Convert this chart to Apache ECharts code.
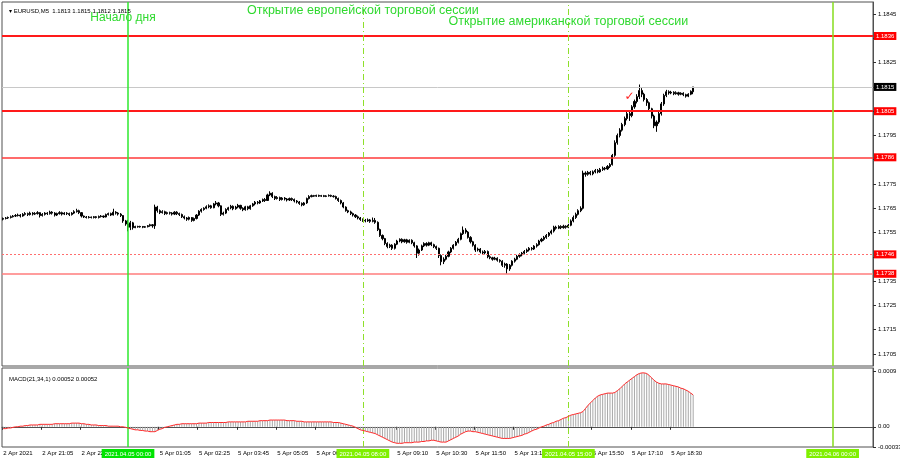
<!DOCTYPE html>
<html><head><meta charset="utf-8">
<script src="https://cdn.jsdelivr.net/npm/echarts@6/dist/echarts.min.js"></script>
<style>html,body{margin:0;padding:0;background:#fff}#c{width:900px;height:460px}</style>
</head><body><div id="c"></div>
<script>
// ---- time structure of the 5-minute bars (categories) ----
const sessions = [
  {date:'2021.04.02', start:'19:45', bars:51},
  {date:'2021.04.05', start:'00:00', bars:288},
  {date:'2021.04.06', start:'00:00', bars:17}
];
// ---- EURUSD M5 bars: [open, close, low, high] ----
const ohlc = [
[1.17605,1.17608,1.17600,1.17612],[1.17608,1.17610,1.17604,1.17614],[1.17610,1.17612,1.17606,1.17616],[1.17612,1.17615,1.17608,1.17620],
[1.17615,1.17618,1.17612,1.17622],[1.17618,1.17620,1.17614,1.17626],[1.17620,1.17622,1.17616,1.17628],[1.17622,1.17618,1.17612,1.17626],
[1.17618,1.17625,1.17615,1.17630],[1.17625,1.17628,1.17620,1.17634],[1.17628,1.17624,1.17618,1.17632],[1.17624,1.17630,1.17620,1.17636],
[1.17630,1.17626,1.17620,1.17634],[1.17626,1.17628,1.17622,1.17634],[1.17628,1.17632,1.17624,1.17638],[1.17632,1.17620,1.17612,1.17634],
[1.17620,1.17625,1.17616,1.17630],[1.17625,1.17630,1.17620,1.17634],[1.17630,1.17628,1.17622,1.17634],[1.17628,1.17634,1.17624,1.17640],
[1.17634,1.17630,1.17624,1.17638],[1.17630,1.17622,1.17616,1.17634],[1.17622,1.17628,1.17618,1.17632],[1.17628,1.17632,1.17624,1.17638],
[1.17632,1.17626,1.17620,1.17636],[1.17626,1.17630,1.17622,1.17634],[1.17630,1.17628,1.17622,1.17634],[1.17628,1.17624,1.17618,1.17632],
[1.17624,1.17630,1.17620,1.17634],[1.17630,1.17636,1.17626,1.17642],[1.17636,1.17640,1.17632,1.17648],[1.17640,1.17632,1.17626,1.17644],
[1.17632,1.17618,1.17612,1.17634],[1.17618,1.17614,1.17610,1.17620],[1.17614,1.17612,1.17608,1.17618],[1.17612,1.17614,1.17608,1.17618],
[1.17614,1.17612,1.17608,1.17616],[1.17612,1.17615,1.17608,1.17618],[1.17615,1.17612,1.17608,1.17618],[1.17612,1.17616,1.17608,1.17620],
[1.17616,1.17618,1.17612,1.17622],[1.17618,1.17614,1.17610,1.17620],[1.17614,1.17624,1.17612,1.17628],[1.17624,1.17628,1.17620,1.17632],
[1.17628,1.17622,1.17618,1.17632],[1.17622,1.17634,1.17620,1.17648],[1.17634,1.17630,1.17624,1.17638],[1.17630,1.17626,1.17620,1.17634],
[1.17626,1.17620,1.17614,1.17630],[1.17620,1.17598,1.17590,1.17622],[1.17598,1.17585,1.17578,1.17602],
[1.17585,1.17572,1.17555,1.17602],[1.17572,1.17590,1.17560,1.17598],[1.17590,1.17570,1.17562,1.17594],[1.17570,1.17575,1.17568,1.17578],
[1.17575,1.17573,1.17570,1.17578],[1.17573,1.17575,1.17570,1.17578],[1.17575,1.17572,1.17568,1.17577],[1.17572,1.17574,1.17569,1.17577],
[1.17574,1.17578,1.17571,1.17581],[1.17578,1.17582,1.17574,1.17586],[1.17582,1.17578,1.17570,1.17585],[1.17578,1.17655,1.17565,1.17665],
[1.17655,1.17640,1.17632,1.17660],[1.17640,1.17632,1.17626,1.17645],[1.17632,1.17636,1.17628,1.17642],[1.17636,1.17628,1.17622,1.17640],
[1.17628,1.17632,1.17624,1.17636],[1.17632,1.17630,1.17624,1.17636],[1.17630,1.17626,1.17620,1.17634],[1.17626,1.17634,1.17622,1.17638],
[1.17634,1.17628,1.17622,1.17638],[1.17628,1.17624,1.17618,1.17632],[1.17624,1.17615,1.17610,1.17628],[1.17615,1.17610,1.17604,1.17620],
[1.17610,1.17605,1.17598,1.17614],[1.17605,1.17612,1.17600,1.17616],[1.17612,1.17600,1.17594,1.17614],[1.17600,1.17608,1.17596,1.17612],
[1.17608,1.17622,1.17604,1.17626],[1.17622,1.17638,1.17618,1.17642],[1.17638,1.17645,1.17632,1.17650],[1.17645,1.17650,1.17640,1.17654],
[1.17650,1.17656,1.17646,1.17662],[1.17656,1.17660,1.17650,1.17666],[1.17660,1.17652,1.17648,1.17664],[1.17652,1.17668,1.17650,1.17672],
[1.17668,1.17672,1.17662,1.17680],[1.17672,1.17660,1.17654,1.17676],[1.17660,1.17625,1.17618,1.17662],[1.17625,1.17630,1.17620,1.17636],
[1.17630,1.17645,1.17626,1.17650],[1.17645,1.17652,1.17640,1.17656],[1.17652,1.17658,1.17646,1.17664],[1.17658,1.17648,1.17642,1.17662],
[1.17648,1.17655,1.17644,1.17660],[1.17655,1.17662,1.17650,1.17668],[1.17662,1.17650,1.17644,1.17664],[1.17650,1.17644,1.17638,1.17654],
[1.17644,1.17656,1.17640,1.17660],[1.17656,1.17648,1.17642,1.17660],[1.17648,1.17660,1.17644,1.17664],[1.17660,1.17668,1.17656,1.17672],
[1.17668,1.17675,1.17662,1.17680],[1.17675,1.17672,1.17666,1.17680],[1.17672,1.17680,1.17668,1.17684],[1.17680,1.17686,1.17676,1.17690],
[1.17686,1.17682,1.17676,1.17692],[1.17682,1.17705,1.17680,1.17710],[1.17705,1.17712,1.17700,1.17720],[1.17712,1.17698,1.17692,1.17716],
[1.17698,1.17690,1.17684,1.17702],[1.17690,1.17694,1.17686,1.17700],[1.17694,1.17686,1.17680,1.17698],[1.17686,1.17692,1.17682,1.17696],
[1.17692,1.17688,1.17682,1.17696],[1.17688,1.17684,1.17678,1.17692],[1.17684,1.17690,1.17680,1.17694],[1.17690,1.17686,1.17680,1.17694],
[1.17686,1.17680,1.17674,1.17690],[1.17680,1.17676,1.17670,1.17684],[1.17676,1.17670,1.17664,1.17680],[1.17670,1.17664,1.17658,1.17674],
[1.17664,1.17672,1.17660,1.17676],[1.17672,1.17690,1.17668,1.17694],[1.17690,1.17698,1.17686,1.17704],[1.17698,1.17702,1.17695,1.17706],
[1.17702,1.17700,1.17697,1.17705],[1.17700,1.17703,1.17697,1.17706],[1.17703,1.17700,1.17697,1.17706],[1.17700,1.17702,1.17697,1.17705],
[1.17702,1.17699,1.17696,1.17705],[1.17699,1.17701,1.17696,1.17704],[1.17701,1.17703,1.17698,1.17707],[1.17703,1.17700,1.17696,1.17706],
[1.17700,1.17698,1.17694,1.17704],[1.17698,1.17690,1.17686,1.17702],[1.17690,1.17682,1.17676,1.17694],[1.17682,1.17672,1.17666,1.17686],
[1.17672,1.17655,1.17650,1.17676],[1.17655,1.17640,1.17636,1.17658],[1.17640,1.17635,1.17630,1.17644],[1.17635,1.17628,1.17622,1.17640],
[1.17628,1.17622,1.17616,1.17632],[1.17622,1.17615,1.17610,1.17626],[1.17615,1.17610,1.17604,1.17620],[1.17610,1.17604,1.17598,1.17614],
[1.17604,1.17600,1.17594,1.17608],[1.17600,1.17598,1.17592,1.17606],[1.17598,1.17602,1.17594,1.17608],[1.17602,1.17596,1.17590,1.17606],
[1.17596,1.17600,1.17592,1.17612],[1.17600,1.17592,1.17586,1.17610],[1.17592,1.17562,1.17556,1.17596],[1.17562,1.17538,1.17532,1.17566],
[1.17538,1.17525,1.17518,1.17542],[1.17525,1.17505,1.17498,1.17528],[1.17505,1.17492,1.17485,1.17510],[1.17492,1.17498,1.17486,1.17504],
[1.17498,1.17485,1.17478,1.17502],[1.17485,1.17502,1.17480,1.17506],[1.17502,1.17515,1.17498,1.17520],[1.17515,1.17522,1.17510,1.17526],
[1.17522,1.17512,1.17506,1.17526],[1.17512,1.17520,1.17508,1.17524],[1.17520,1.17510,1.17504,1.17524],[1.17510,1.17518,1.17506,1.17522],
[1.17518,1.17508,1.17502,1.17522],[1.17508,1.17495,1.17488,1.17512],[1.17495,1.17465,1.17445,1.17498],[1.17465,1.17478,1.17455,1.17484],
[1.17478,1.17495,1.17474,1.17500],[1.17495,1.17505,1.17490,1.17510],[1.17505,1.17498,1.17492,1.17510],[1.17498,1.17508,1.17494,1.17512],
[1.17508,1.17500,1.17494,1.17512],[1.17500,1.17492,1.17486,1.17504],[1.17492,1.17485,1.17478,1.17496],[1.17485,1.17455,1.17445,1.17488],
[1.17455,1.17430,1.17415,1.17460],[1.17430,1.17440,1.17420,1.17448],[1.17440,1.17452,1.17435,1.17458],[1.17452,1.17470,1.17448,1.17475],
[1.17470,1.17485,1.17465,1.17490],[1.17485,1.17498,1.17480,1.17502],[1.17498,1.17510,1.17494,1.17515],[1.17510,1.17522,1.17505,1.17528],
[1.17522,1.17545,1.17518,1.17550],[1.17545,1.17560,1.17540,1.17575],[1.17560,1.17552,1.17545,1.17568],[1.17552,1.17530,1.17525,1.17556],
[1.17530,1.17512,1.17505,1.17535],[1.17512,1.17498,1.17492,1.17516],[1.17498,1.17478,1.17470,1.17502],[1.17478,1.17482,1.17472,1.17488],
[1.17482,1.17470,1.17464,1.17486],[1.17470,1.17466,1.17460,1.17476],[1.17466,1.17472,1.17460,1.17478],[1.17472,1.17450,1.17444,1.17476],
[1.17450,1.17446,1.17440,1.17456],[1.17446,1.17440,1.17434,1.17450],[1.17440,1.17444,1.17436,1.17450],[1.17444,1.17436,1.17430,1.17448],
[1.17436,1.17432,1.17426,1.17440],[1.17432,1.17415,1.17408,1.17436],[1.17415,1.17420,1.17405,1.17426],[1.17420,1.17400,1.17380,1.17424],
[1.17400,1.17415,1.17392,1.17420],[1.17415,1.17432,1.17410,1.17436],[1.17432,1.17440,1.17426,1.17446],[1.17440,1.17452,1.17436,1.17458],
[1.17452,1.17458,1.17446,1.17464],[1.17458,1.17465,1.17452,1.17470],[1.17465,1.17472,1.17460,1.17478],[1.17472,1.17478,1.17466,1.17484],
[1.17478,1.17485,1.17472,1.17490],[1.17485,1.17482,1.17476,1.17490],[1.17482,1.17494,1.17478,1.17498],[1.17494,1.17500,1.17488,1.17506],
[1.17500,1.17515,1.17496,1.17520],[1.17515,1.17522,1.17510,1.17528],[1.17522,1.17530,1.17516,1.17536],[1.17530,1.17538,1.17524,1.17544],
[1.17538,1.17548,1.17532,1.17552],[1.17548,1.17556,1.17542,1.17562],[1.17556,1.17572,1.17550,1.17578],[1.17572,1.17568,1.17562,1.17578],
[1.17568,1.17575,1.17564,1.17580],[1.17575,1.17570,1.17564,1.17580],[1.17570,1.17576,1.17566,1.17582],[1.17576,1.17572,1.17566,1.17580],
[1.17572,1.17580,1.17568,1.17586],[1.17580,1.17598,1.17576,1.17604],[1.17598,1.17612,1.17592,1.17620],[1.17612,1.17625,1.17606,1.17632],
[1.17625,1.17640,1.17620,1.17646],[1.17640,1.17650,1.17634,1.17658],[1.17650,1.17795,1.17645,1.17805],[1.17795,1.17790,1.17780,1.17802],
[1.17790,1.17798,1.17784,1.17804],[1.17798,1.17792,1.17786,1.17804],[1.17792,1.17800,1.17786,1.17806],[1.17800,1.17806,1.17794,1.17812],
[1.17806,1.17800,1.17794,1.17812],[1.17800,1.17810,1.17796,1.17816],[1.17810,1.17815,1.17804,1.17822],[1.17815,1.17812,1.17806,1.17820],
[1.17812,1.17822,1.17808,1.17828],[1.17822,1.17830,1.17816,1.17836],[1.17830,1.17868,1.17826,1.17874],[1.17868,1.17920,1.17862,1.17930],
[1.17920,1.17950,1.17912,1.17958],[1.17950,1.17972,1.17942,1.17980],[1.17972,1.17995,1.17966,1.18002],[1.17995,1.18020,1.17988,1.18028],
[1.18020,1.18040,1.18012,1.18048],[1.18040,1.18032,1.18010,1.18050],[1.18032,1.18068,1.18025,1.18075],[1.18068,1.18090,1.18060,1.18098],
[1.18090,1.18110,1.18082,1.18120],[1.18110,1.18135,1.18100,1.18160],[1.18135,1.18120,1.18108,1.18145],[1.18120,1.18098,1.18090,1.18126],
[1.18098,1.18085,1.18072,1.18104],[1.18085,1.18060,1.18050,1.18090],[1.18060,1.18030,1.18020,1.18064],[1.18030,1.17990,1.17980,1.18036],
[1.17990,1.18005,1.17965,1.18012],[1.18005,1.18040,1.17998,1.18048],[1.18040,1.18080,1.18032,1.18088],[1.18080,1.18115,1.18072,1.18122],
[1.18115,1.18130,1.18108,1.18138],[1.18130,1.18125,1.18118,1.18136],[1.18125,1.18128,1.18120,1.18134],[1.18128,1.18122,1.18116,1.18132],
[1.18122,1.18126,1.18118,1.18132],[1.18126,1.18120,1.18114,1.18130],[1.18120,1.18124,1.18116,1.18128],[1.18124,1.18118,1.18112,1.18128],
[1.18118,1.18112,1.18106,1.18122],[1.18112,1.18120,1.18108,1.18124],[1.18120,1.18132,1.18116,1.18136],[1.18130,1.18150,1.18120,1.18150]
];
// ---- MACD(21,34,1) main value per bar, in units of 0.00001 (signal = main, period 1) ----
const MACD_UNIT = 0.00001;
const macdPts = [
-3,-3,-2,-2,-1, 0,0,1,1,2,2,3,3,3,
3,4,4,4,4,4,4,5,5,5,5,5,5,5,6,6,6,
6,5,5,4,4,3,3,3,2,2,2,2,1,1,1,1,1,0,0,-1,
-2,-3,-4,-5,-5,-6,-6,-7,-7,-8,-8,-8,
-6,-4,-3,-1,0,1,2,3,4,4,
5,5,5,5,5,5,5,6,6,
6,6,7,7,7,7,7,7,7,7,8,8,8,8,8,8,8,8,9,9,
9,9,9,10,10,10,10,11,11,11,11,11,11,11,10,10,10,10,9,9,9,8,
8,8,8,8,8,8,8,8,8,8,8,7,7,7,6,
5,4,3,2,1,-1,-3,-5,
-6,-7,-8,-9,-10,-11,-13,-15,-17,-19,-21,-23,-25,
-26,-27,-27,-27,-26,-26,-26,-26,-25,-25,-25,-24,-24,-23,-23,-22,-22,
-23,-24,-25,-25,-25,-23,
-21,-19,-17,-15,-12,-10,-8,-7,
-7,-8,-8,-9,
-10,-11,-12,-13,-14,-15,-16,-17,-18,-19,-19,-19,-19,
-18,-17,-16,-15,-14,-12,-11,-9,-7,-5,-4,-2,
0,1,3,4,6,7,9,10,12,14,15,17,
19,20,21,22,23,25,
30,35,39,43,47,50,52,53,
54,55,55,55,56,
59,62,66,70,73,76,79,82,85,87,
88,88,87,
84,80,76,73,
71,70,70,70,69,68,
67,66,65,63,62,60,58,55,52
];
// ---- axis tick values ----
const priceTicks = [1.1705,1.1715,1.1725,1.1735,1.1745,1.1755,1.1765,1.1775,1.1785,1.1795,1.1805,1.1815,1.1825,1.1835,1.1845];
const macdTicks = [-0.00033, 0, 0.0009];
const macdTickText = ['-0.00033','0.00','0.0009'];
const timeLabels = ['2021.04.02 19:45','2021.04.02 21:05','2021.04.02 22:25','2021.04.05 01:05','2021.04.05 02:25',
  '2021.04.05 03:45','2021.04.05 05:05','2021.04.05 06:25','2021.04.05 09:10','2021.04.05 10:30','2021.04.05 11:50',
  '2021.04.05 13:10','2021.04.05 15:50','2021.04.05 17:10','2021.04.05 18:30'];
const sessionMarks = ['2021.04.05 00:00','2021.04.05 08:00','2021.04.05 15:00','2021.04.06 00:00'];
// ---- horizontal levels ----
const levels = [1.1836, 1.1805, 1.1786, 1.1746, 1.1738];
const bidPrice = 1.1815;
// ---- text annotations ----
const notes = [
  {text:'Начало дня', time:'2021.04.05 00:00', price:1.18434},
  {text:'Открытие европейской торговой сессии', time:'2021.04.05 08:00', price:1.18463},
  {text:'Открытие американской торговой сессии', time:'2021.04.05 15:00', price:1.18417}
];
const tick = {time:'2021.04.05 17:05', price:1.18107};

// ---------- build ----------
const categories = [];
sessions.forEach(s => {
  const [h, m] = s.start.split(':').map(Number);
  for (let k = 0; k < s.bars; k++) {
    const mm = h * 60 + m + k * 5;
    categories.push(s.date + ' ' + String(Math.floor(mm / 60)).padStart(2, '0') + ':' + String(mm % 60).padStart(2, '0'));
  }
});
const MON = {'04': 'Apr'};
const labelSet = new Set(timeLabels);
const markSet = new Set(sessionMarks);
function shortLabel(cat, idx) {
  const [d, t] = cat.split(' ');
  const [y, mo, dd] = d.split('.');
  return idx === 0 ? (+dd) + ' ' + MON[mo] + ' ' + y : (+dd) + ' ' + MON[mo] + ' ' + t;
}
const macd = macdPts.map(v => +(v * MACD_UNIT).toFixed(5));
const last = ohlc[ohlc.length - 1];
const FONT = 'Liberation Sans';
const GREEN_TXT = '#2fd92f';
const vLineStyles = [
  {color:'#2ee82e', width:1.5, type:'solid'},
  {color:'#8ee02a', width:1, type:[6,3,1,3]},
  {color:'#8ee02a', width:1, type:[6,3,1,3]},
  {color:'#86dc1e', width:1.5, type:'solid'}
];
const makeVLines = () => sessionMarks.map((t, i) => ({xAxis: categories.indexOf(t), lineStyle: Object.assign({}, vLineStyles[i]), label:{show:false}}));
const levelColors = ['#ff1a1a', '#ff1a1a', '#ff3a3a', '#ff6e6e', '#ff7d7d'];
const levelWidths = [2, 2, 1.5, 1, 1.5];
const levelTypes = ['solid', 'solid', 'solid', [2, 2], 'solid'];
const levelLines = levels.map((v, i) => ({
  yAxis: v,
  lineStyle: {color: levelColors[i], width: levelWidths[i], type: levelTypes[i], opacity: 1},
  label: {show:true, position:'end', distance:1, formatter: v.toFixed(4), backgroundColor:'#ff0000', color:'#fff',
          fontSize:6, fontFamily:FONT, padding:[1,2,1,2]}
}));
levelLines.push({yAxis: bidPrice, lineStyle:{color:'#c8c8c8', width:1, type:'solid'},
  label:{show:true, position:'end', distance:1, formatter: bidPrice.toFixed(4), backgroundColor:'#000', color:'#fff',
         fontSize:6, fontFamily:FONT, padding:[1,2,1,2]}});

const notePoints = notes.map(n => ({
  coord:[categories.indexOf(n.time), n.price], symbolSize:1, itemStyle:{color:'rgba(0,0,0,0)'},
  label:{show:true, formatter:n.text, color:GREEN_TXT, fontSize: n.text === 'Начало дня' ? 12 : 12.5, fontFamily:FONT, position:'inside',
         offset: n.text === 'Начало дня' ? [-5, 0] : [0, 0]}
}));
notePoints.push({coord:[categories.indexOf(tick.time), tick.price], symbolSize:1, itemStyle:{color:'rgba(0,0,0,0)'},
  label:{show:true, formatter:'✓', color:'#ff2020', fontSize:12, fontFamily:'DejaVu Sans', position:'inside'}});

const fmt = v => v.toFixed(4);
const chart = echarts.init(document.getElementById('c'), null, {renderer:'canvas'});
chart.setOption({
  animation:false,
  backgroundColor:'#ffffff',
  textStyle:{fontFamily:FONT},
  title:[
    {text:'▾ EURUSD,M5  ' + [last[0], last[3], last[2], last[1]].map(fmt).join(' '), left:4, top:3,
     textStyle:{fontSize:6, fontWeight:'normal', color:'#000', fontFamily:FONT}},
    {text:'MACD(21,34,1) ' + macd[macd.length-1].toFixed(5) + ' ' + macd[macd.length-1].toFixed(5), left:4, top:371,
     textStyle:{fontSize:6, fontWeight:'normal', color:'#000', fontFamily:FONT}}
  ],
  grid:[
    {left:2, right:27, top:2, height:364, show:true, borderColor:'#505050', borderWidth:1, backgroundColor:'#fff',
     outerBoundsMode:'none', containLabel:false},
    {left:2, right:27, top:368, bottom:13, show:true, borderColor:'#505050', borderWidth:1, backgroundColor:'#fff',
     outerBoundsMode:'none', containLabel:false}
  ],
  xAxis:[
    {type:'category', gridIndex:0, data:categories, boundaryGap:true, axisLine:{show:false}, axisTick:{show:false},
     axisLabel:{show:false}, splitLine:{show:false}},
    {type:'category', gridIndex:1, data:categories, boundaryGap:true, position:'bottom',
     axisLine:{show:true, lineStyle:{color:'#505050'}},
     axisTick:{show:true, length:3, interval:(i, v) => labelSet.has(v), lineStyle:{color:'#303030'}},
     axisLabel:{show:true, interval:(i, v) => labelSet.has(v), formatter:(v, i) => shortLabel(v, i),
                align:'left', fontSize:6, color:'#000', margin:3, fontFamily:FONT, hideOverlap:false},
     splitLine:{show:false}},
    {type:'category', gridIndex:1, data:categories, boundaryGap:true, position:'bottom', z:10,
     axisLine:{show:false}, axisTick:{show:false},
     axisLabel:{show:true, interval:(i, v) => markSet.has(v), formatter:(v) => (v === sessionMarks[0] ? '{a|' : '{b|') + v + '}',
                align:'center', margin:2, fontFamily:FONT, hideOverlap:false,
                rich:{a:{backgroundColor:'#00e400', color:'#fff', fontSize:6, padding:[2,3,1,3], fontFamily:FONT},
                      b:{backgroundColor:'#7ff000', color:'#fff', fontSize:6, padding:[2,3,1,3], fontFamily:FONT}}},
     splitLine:{show:false}}
  ],
  yAxis:[
    {type:'value', gridIndex:0, position:'right', min:1.17, max:1.185, splitLine:{show:false},
     axisLine:{show:true, lineStyle:{color:'#505050'}},
     axisTick:{show:true, length:3, customValues:priceTicks, lineStyle:{color:'#303030'}},
     axisLabel:{show:true, customValues:priceTicks, formatter:fmt, fontSize:6, color:'#000', margin:5, fontFamily:FONT}},
    {type:'value', gridIndex:1, position:'right', min:-0.00033, max:0.00096, splitLine:{show:false},
     axisLine:{show:true, lineStyle:{color:'#505050'}},
     axisTick:{show:true, length:3, customValues:macdTicks, lineStyle:{color:'#303030'}},
     axisLabel:{show:true, customValues:macdTicks, formatter:v => macdTickText[macdTicks.findIndex(t => Math.abs(t - v) < 1e-7)] || '',
                fontSize:6, color:'#000', margin:5, fontFamily:FONT}}
  ],
  series:[
    {type:'candlestick', name:'EURUSD', xAxisIndex:0, yAxisIndex:0, data:ohlc, barWidth:1.6,
     itemStyle:{color:'#000', color0:'#000', borderColor:'#000', borderColor0:'#000', borderWidth:1},
     markLine:{silent:true, symbol:'none', animation:false, precision:5, data:[...levelLines, ...makeVLines()]},
     markPoint:{silent:true, animation:false, data:notePoints}},
    {type:'bar', name:'MACD', xAxisIndex:1, yAxisIndex:1, data:macd, barWidth:1, itemStyle:{color:'#a8a8a8'}},
    {type:'line', name:'Signal', xAxisIndex:1, yAxisIndex:1, data:macd, showSymbol:false, symbol:'none',
     lineStyle:{color:'#ff2a2a', width:1}, z:5,
     markLine:{silent:true, symbol:'none', animation:false, precision:5, data:makeVLines()}}
  ]
});
</script>
</body></html>
